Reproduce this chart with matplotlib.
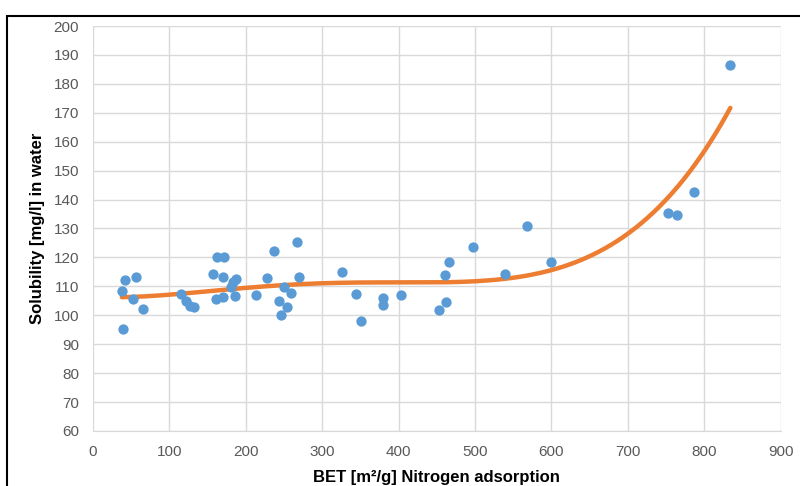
import numpy as np
import matplotlib
matplotlib.use('Agg')
import matplotlib.pyplot as plt
from matplotlib.patches import Rectangle

plt.rcParams['font.family'] = ['Liberation Sans', 'DejaVu Sans']

# BET surface area [m2/g]
bet = [38, 42, 56, 53, 66, 39, 116, 122, 127, 133, 157, 162, 171, 170, 161, 170,
       183, 187, 186, 181, 213, 228, 237, 267, 243, 246, 254, 250, 259, 270,
       326, 344, 351, 380, 380, 403, 453, 462, 461, 466, 498, 539, 568, 600,
       834, 787, 753, 764]
# solubility [mg/l]
solubility = [108.3, 112.2, 113.1, 105.5, 102.1, 95.4, 107.4, 104.9, 103.2, 102.8,
              114.3, 120.0, 120.0, 113.3, 105.6, 106.4, 111.6, 112.4, 106.7, 109.9,
              107.0, 113.0, 122.3, 125.2, 105.0, 100.2, 103.0, 109.9, 107.8, 113.1,
              114.9, 107.5, 98.0, 106.1, 103.7, 107.0, 101.7, 104.7, 113.8, 118.5,
              123.7, 114.3, 130.8, 118.5, 186.4, 142.7, 135.5, 134.7]

# polynomial trendline
trend_x = [38, 127, 245, 258, 376, 463, 506, 572, 611, 637, 705, 757, 805, 834]
trend_y = [106.2, 107.8, 110.5, 110.5, 111.3, 111.1, 111.9, 113.9, 116.8, 118.8,
           130.1, 141.0, 158.3, 172.3]

x_ticks = list(range(0, 1000, 100))
y_ticks = list(range(60, 210, 10))


def main():
    fig = plt.figure(figsize=(8, 4.86), dpi=100)
    ax = fig.add_axes([0.116, 0.1132, 0.86, 0.8333])

    ax.scatter(bet, solubility, s=55, color='#5B9BD5', zorder=3, linewidths=0)

    # smooth polynomial through the trendline readings
    coef = np.polyfit(trend_x, trend_y, 4)
    xs = np.linspace(min(trend_x), max(trend_x), 200)
    ax.plot(xs, np.polyval(coef, xs), color='#ED7D31', lw=3.2, zorder=2,
            solid_capstyle='round')

    ax.set_xlim(0, 900)
    ax.set_ylim(60, 200)
    ax.set_xticks(x_ticks)
    ax.set_yticks(y_ticks)
    ax.grid(True, color='#d9d9d9', lw=1)
    ax.set_axisbelow(True)
    for s in ['top', 'right', 'left']:
        ax.spines[s].set_visible(False)
    ax.spines['bottom'].set_color('#d9d9d9')
    ax.tick_params(length=0, labelsize=11, colors='#595959', pad=10)

    ax.set_xlabel('BET [m²/g] Nitrogen adsorption', fontsize=12, fontweight='bold',
                  labelpad=8)
    ax.set_ylabel('Solubility [mg/l] in water', fontsize=12, fontweight='bold',
                  labelpad=6)

    fig.patches.append(Rectangle((0.0085, -0.05), 1.1, 1.05 - 16 / 486,
                                 transform=fig.transFigure, fill=False,
                                 edgecolor='black', lw=1.5))

    fig.savefig('out.png', dpi=100)


if __name__ == "__main__":
    main()
